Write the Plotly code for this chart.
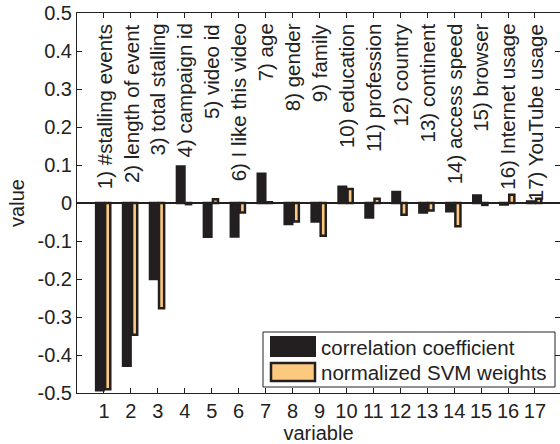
import plotly.graph_objects as go

variables = list(range(1, 18))
var_labels = [
    "1) #stalling events", "2) length of event", "3) total stalling",
    "4) campaign id", "5) video id", "6) I like this video", "7) age",
    "8) gender", "9) family", "10) education", "11) profession",
    "12) country", "13) continent", "14) access speed", "15) browser",
    "16) Internet usage", "17) YouTube usage",
]
corr_coef = [-0.493, -0.428, -0.200, 0.096, -0.089, -0.088, 0.077, -0.055,
             -0.049, 0.043, -0.038, 0.029, -0.025, -0.022, 0.020, -0.004, 0.004]
svm_weights = [-0.490, -0.347, -0.277, -0.003, 0.010, -0.025, 0.002, -0.049,
               -0.086, 0.037, 0.011, -0.031, -0.020, -0.061, -0.005, 0.022, 0.011]
y_tick_vals = [-0.5, -0.4, -0.3, -0.2, -0.1, 0, 0.1, 0.2, 0.3, 0.4, 0.5]
y_tick_text = ["-0.5", "-0.4", "-0.3", "-0.2", "-0.1", "0", "0.1", "0.2", "0.3", "0.4", "0.5"]
legend_names = ["correlation coefficient", "normalized SVM weights"]

BLACK = "#231f20"
ORANGE = "#fcc97f"
INK = "#222222"
FONT = "Liberation Sans, Arial, Helvetica, sans-serif"

fig = go.Figure()
fig.add_trace(go.Bar(
    x=variables, y=corr_coef, name=legend_names[0],
    offset=-0.29, width=0.28,
    marker=dict(color=BLACK, line=dict(color=BLACK, width=2.5)),
    showlegend=False,
))
fig.add_trace(go.Bar(
    x=variables, y=svm_weights, name=legend_names[1],
    offset=0.045, width=0.19,
    marker=dict(color=ORANGE, line=dict(color=BLACK, width=2.5)),
    showlegend=False,
))

annotations = []
for v, lab in zip(variables, var_labels):
    annotations.append(dict(
        x=v, y=0.477, xref="x", yref="y", text=lab, textangle=-90,
        showarrow=False, xanchor="center", yanchor="top",
        font=dict(family=FONT, size=20.5, color=INK),
    ))

# legend (drawn in paper coordinates)
def px_x(p):
    return (p - 77) / 483.0

def px_y(p):
    return (393 - p) / 380.0

shapes = [
    dict(type="rect", xref="paper", yref="paper",
         x0=px_x(263), x1=px_x(555), y0=px_y(387), y1=px_y(332),
         line=dict(color=INK, width=1), fillcolor="white", layer="above"),
    dict(type="rect", xref="paper", yref="paper",
         x0=px_x(271), x1=px_x(315), y0=px_y(356), y1=px_y(337),
         line=dict(color=BLACK, width=2), fillcolor=BLACK, layer="above"),
    dict(type="rect", xref="paper", yref="paper",
         x0=px_x(271), x1=px_x(315), y0=px_y(381), y1=px_y(363),
         line=dict(color=BLACK, width=2.5), fillcolor=ORANGE, layer="above"),
]
for name, cy in zip(legend_names, [347, 372]):
    annotations.append(dict(
        x=px_x(319), y=px_y(cy), xref="paper", yref="paper", text=name,
        showarrow=False, xanchor="left", yanchor="middle",
        font=dict(family=FONT, size=20.5, color=INK),
    ))

fig.update_layout(
    width=560, height=444,
    margin=dict(l=77, r=0, t=13, b=51, autoexpand=False),
    paper_bgcolor="white", plot_bgcolor="white",
    barmode="overlay",
    font=dict(family=FONT, size=20, color=INK),
    annotations=annotations,
    shapes=shapes,
    showlegend=False,
)
fig.update_xaxes(
    range=[0, 17.93], tickmode="array", tickvals=variables,
    ticks="inside", ticklen=5, tickcolor=INK, showline=True, linecolor=INK,
    linewidth=1, mirror="ticks", showgrid=False, zeroline=False,
    automargin=False,
    title=dict(text="variable", font=dict(size=20), standoff=0),
    tickfont=dict(size=20),
)
fig.update_yaxes(
    range=[-0.5, 0.5], tickmode="array", tickvals=y_tick_vals, ticktext=y_tick_text,
    ticks="inside", ticklen=5, tickcolor=INK, showline=True, linecolor=INK,
    linewidth=1, mirror="ticks", showgrid=False,
    zeroline=True, zerolinecolor=INK, zerolinewidth=2,
    automargin=False,
    title=dict(text="value", font=dict(size=20), standoff=7),
    tickfont=dict(size=20),
)

fig.write_html(
    "out.html",
    config={"displayModeBar": False},
    post_script="document.body.style.margin='0';document.body.style.overflow='hidden';",
)
